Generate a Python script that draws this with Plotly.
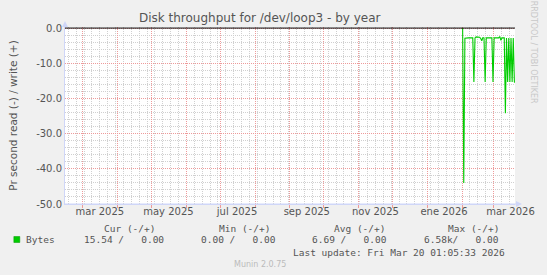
import pandas as pd
import plotly.graph_objects as go

# ---------------- data ----------------
range_start = "2025-02-13 01:05:33"
range_end = "2026-03-20 01:05:33"

day_dates = pd.date_range("2026-02-01 12:00", "2026-03-20 12:00", freq="D")
read_values = [
    0.0, -44.0, -2.9, -2.8, -2.8, -2.8, -2.8, -2.8, -2.8, -2.8,   # Feb 1-10
    -15.3, -2.8, -2.5, -2.5, -2.4, -2.6, -2.9, -3.6, -2.7, -2.8,  # Feb 11-20
    -15.3, -2.8, -2.8, -2.8, -2.8, -2.8, -2.8, -15.3,             # Feb 21-28
    -2.8, -2.8, -2.8, -2.8, -2.8, -2.4, -3.5, -2.8, -2.8, -2.8,   # Mar 1-10
    -24.2, -2.8, -15.3, -2.8, -15.3, -2.8, -15.3, -2.8, -15.3, -15.54,  # Mar 11-20
]

label_dates = ["2025-03-16", "2025-05-16", "2025-07-16", "2025-09-16",
               "2025-11-16", "2026-01-16", "2026-03-16"]
label_text = ["mar 2025", "may 2025", "jul 2025", "sep 2025",
              "nov 2025", "ene 2026", "mar 2026"]
month_starts = pd.date_range("2025-03-01", "2026-03-01", freq="MS")
week_starts = pd.date_range("2025-02-16", "2026-03-20", freq="7D")

y_ticks = [0, -10, -20, -30, -40, -50]
y_minor = list(range(-50, 1, 2))

legend_headers = ["Cur (-/+)", "Min (-/+)", "Avg (-/+)", "Max (-/+)"]
legend_values = ["15.54 /   0.00", "0.00 /   0.00", "6.69 /   0.00", "6.58k/   0.00"]
series_name = "Bytes"
last_update = "Last update: Fri Mar 20 01:05:33 2026"

# ---------------- layout geometry ----------------
W_FIG, H_FIG = 547, 275
L, R, T, B = 65, 29, 27, 71
PW = W_FIG - L - R
PH = H_FIG - T - B


def px(x):
    return (x - L) / PW


def py(y):
    return (H_FIG - B - y) / PH


GREEN = "#00CC00"
FONT_C = "#555555"
AXIS_C = "#CFD6F8"
MGRID = "#EE9A9A"
GRID = "#D0D0D0"
MONO = "DejaVu Sans Mono"
SANS = "DejaVu Sans"

fig = go.Figure()

fig.add_trace(go.Scatter(
    x=day_dates, y=read_values, mode="lines", line=dict(color=GREEN, width=1.1),
    showlegend=False, hoverinfo="skip"))
# invisible trace to make the label axis exist
fig.add_trace(go.Scatter(x=[range_start], y=[-60], xaxis="x2", mode="markers",
                         marker=dict(opacity=0), showlegend=False, hoverinfo="skip"))

fig.update_layout(
    width=W_FIG, height=H_FIG,
    margin=dict(l=L, r=R, t=T, b=B),
    paper_bgcolor="#F0F0F0", plot_bgcolor="#FFFFFF",
    font=dict(family=SANS, color=FONT_C, size=10),
    title=dict(text="Disk throughput for /dev/loop3 - by year", x=px(261), xref="paper",
               xanchor="center", y=1 - 18 / H_FIG, yanchor="middle",
               font=dict(size=12, color=FONT_C)),
    xaxis=dict(range=[range_start, range_end], type="date",
               tickmode="array", tickvals=list(month_starts), showticklabels=False,
               showgrid=True, gridcolor=MGRID, griddash="1px,1px", gridwidth=1,
               ticks="outside", ticklen=3, tickcolor=MGRID,
               minor=dict(tickmode="array", tickvals=list(week_starts), showgrid=True,
                          gridcolor=GRID, griddash="1px,1px", ticks=""),
               showline=True, linecolor=AXIS_C, zeroline=False),
    xaxis2=dict(range=[range_start, range_end], type="date", overlaying="x", side="bottom",
                tickmode="array", tickvals=label_dates, ticktext=label_text,
                showgrid=False, ticks="", showline=False, zeroline=False,
                tickfont=dict(size=10, color=FONT_C)),
    yaxis=dict(range=[-50, 0.3], tickmode="array", tickvals=y_ticks,
               ticktext=[f"{v:.1f}" for v in y_ticks],
               showgrid=True, gridcolor=MGRID, griddash="1px,1px",
               minor=dict(tickmode="array", tickvals=y_minor, showgrid=True,
                          gridcolor=GRID, griddash="1px,1px", ticks=""),
               ticks="", showline=True, linecolor=AXIS_C, zeroline=False,
               tickfont=dict(size=10, color=FONT_C),
               title=dict(text="Pr second read (-) / write (+)", standoff=16,
                          font=dict(size=10.5, color=FONT_C))),
)

# zero rule (black)
fig.add_shape(type="line", xref="paper", yref="y", x0=0, x1=1, y0=0, y1=0,
              line=dict(color="#000000", width=1), layer="above")
# axis arrows
fig.add_shape(type="path", xref="paper", yref="paper",
              path=f"M {px(519)} {py(201)} L {px(525)} {py(204)} L {px(519)} {py(207)} Z",
              fillcolor=AXIS_C, line=dict(width=0))
fig.add_shape(type="path", xref="paper", yref="paper",
              path=f"M {px(62)} {py(27)} L {px(65)} {py(21)} L {px(68)} {py(27)} Z",
              fillcolor=AXIS_C, line=dict(width=0))
fig.add_shape(type="line", xref="paper", yref="paper", x0=px(65), x1=px(520), y0=0, y1=0,
              line=dict(color=AXIS_C, width=1))

# legend area
fig.add_shape(type="rect", xref="paper", yref="paper",
              x0=px(13.5), x1=px(19.5), y0=py(242.5), y1=py(236.5),
              fillcolor=GREEN, line=dict(width=0.5, color="#009900"))


def txt(x, y, s, anchor="left", size=9.5, color=FONT_C, family=MONO, angle=0):
    fig.add_annotation(x=px(x), y=py(y), xref="paper", yref="paper", text=s,
                       showarrow=False, xanchor=anchor, yanchor="middle", textangle=angle,
                       font=dict(family=family, size=size, color=color), borderpad=0)


header_right = [157, 272, 388, 503]
value_right = [166, 278, 390, 503]
for h, xr in zip(legend_headers, header_right):
    txt(xr, 228, h.replace(" ", "&nbsp;"), anchor="right")
txt(25, 240, series_name)
for v, xr in zip(legend_values, value_right):
    txt(xr, 240, v.replace(" ", "&nbsp;"), anchor="right")
txt(509, 252, last_update.replace(" ", "&nbsp;"), anchor="right")
txt(261, 264, "Munin 2.0.75", anchor="center", size=8, color="#BBBBBB", family=SANS)
txt(537.5, 52, "RRDTOOL / TOBI OETIKER", anchor="center", size=8, color="#C8C8C8",
    family=SANS, angle=90)

fig.write_html("out.html")
